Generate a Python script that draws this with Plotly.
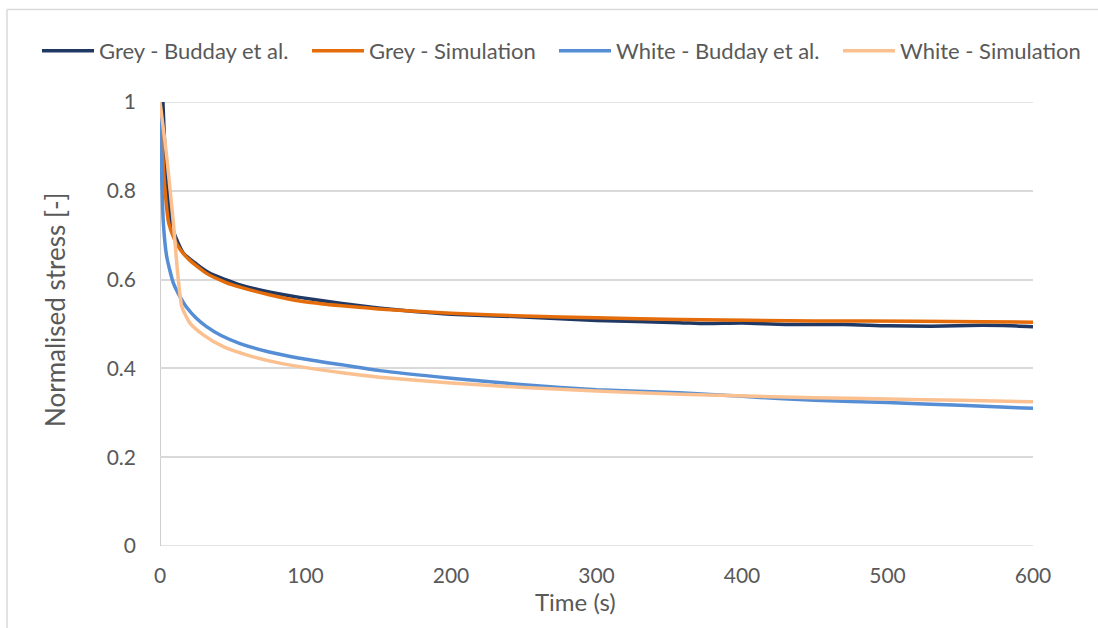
import plotly.graph_objects as go

# Grey matter - Budday et al.
grey_exp_t = [2, 5, 9, 16, 25, 34, 45, 55, 75, 96, 125, 150, 175, 200, 250, 300, 357, 375, 400,
              430, 470, 500, 530, 565, 585, 600]
grey_exp_y = [1.0, 0.80, 0.712, 0.66, 0.635, 0.615, 0.600, 0.588, 0.572, 0.560, 0.546, 0.536,
              0.528, 0.522, 0.516, 0.508, 0.503, 0.501, 0.502, 0.499, 0.499, 0.496, 0.495,
              0.497, 0.496, 0.494]

# Grey matter - simulation
grey_sim_t = [0, 3, 6, 10, 14, 20, 32, 45, 55, 75, 96, 125, 150, 200, 250, 300, 357, 450, 520, 600]
grey_sim_y = [1.0, 0.82, 0.727, 0.69, 0.667, 0.645, 0.614, 0.594, 0.583, 0.566, 0.552, 0.541,
              0.534, 0.524, 0.518, 0.514, 0.510, 0.507, 0.506, 0.504]

# White matter - Budday et al.
white_exp_t = [0, 1, 2.3, 4.6, 9.2, 14, 18, 25, 32, 42, 55, 75, 96, 125, 151, 200, 250, 300,
               357, 400, 450, 500, 550, 600]
white_exp_y = [0.967, 0.85, 0.727, 0.652, 0.592, 0.56, 0.539, 0.513, 0.494, 0.474, 0.456,
               0.437, 0.423, 0.408, 0.395, 0.378, 0.363, 0.352, 0.345, 0.337, 0.328, 0.323,
               0.317, 0.310]

# White matter - simulation
white_sim_t = [0, 4.6, 9.2, 12, 15, 20.6, 30, 43.5, 60, 75, 96, 125, 151, 200, 250, 300, 357,
               450, 500, 550, 600]
white_sim_y = [1.0, 0.877, 0.727, 0.62, 0.539, 0.502, 0.475, 0.449, 0.43, 0.417, 0.404, 0.39,
               0.380, 0.367, 0.357, 0.349, 0.342, 0.334, 0.331, 0.328, 0.325]

x_ticks = [0, 100, 200, 300, 400, 500, 600]
y_ticks = [0, 0.2, 0.4, 0.6, 0.8, 1]
y_tick_text = ["0", "0.2", "0.4", "0.6", "0.8", "1"]

FONT = "Lato"
TEXT = "#595959"
GRID = "#D9D9D9"

W, H = 1098, 628
L, R, T, B = 160, 65, 102, 82
PW, PH = W - L - R, H - T - B


def px_x(px):
    return (px - L) / PW


def px_y(py):
    return (H - B - py) / PH


series = [
    ("Grey - Budday et al.", grey_exp_t, grey_exp_y, "#1F3864", "legend", 37),
    ("Grey - Simulation", grey_sim_t, grey_sim_y, "#E46C0A", "legend2", 307),
    ("White - Budday et al.", white_exp_t, white_exp_y, "#558ED5", "legend3", 554),
    ("White - Simulation", white_sim_t, white_sim_y, "#FAC090", "legend4", 838),
]

fig = go.Figure()
for name, t, y, color, leg, _ in series:
    fig.add_trace(go.Scatter(
        x=t, y=y, name=name, mode="lines", legend=leg,
        line=dict(color=color, width=3.5, shape="spline", smoothing=0.6),
    ))

legend_style = dict(
    orientation="h", xanchor="left", yanchor="middle", y=px_y(51),
    font=dict(size=22, color=TEXT), bgcolor="rgba(0,0,0,0)", itemwidth=52,
)
layout_legends = {}
for _, _, _, _, leg, lx in series:
    layout_legends[leg] = dict(legend_style, x=px_x(lx))

fig.update_layout(
    width=W, height=H,
    margin=dict(l=L, r=R, t=T, b=B, autoexpand=False),
    paper_bgcolor="white", plot_bgcolor="white",
    font=dict(family=FONT, color=TEXT, size=20),
    showlegend=True,
    xaxis=dict(
        range=[0, 600], tickvals=x_ticks, showgrid=False, zeroline=False,
        showline=False, ticks="", ticklabelstandoff=15,
        tickfont=dict(size=21, color=TEXT),
    ),
    yaxis=dict(
        range=[0, 1], tickvals=y_ticks, ticktext=y_tick_text,
        showgrid=True, gridcolor=GRID, gridwidth=1.5, zeroline=False,
        showline=False, ticks="", ticklabelstandoff=23,
        tickfont=dict(size=21, color=TEXT),
    ),
    **layout_legends,
)

# Axis titles
fig.add_annotation(text="Time (s)", xref="paper", yref="paper", x=px_x(575), y=px_y(601),
                   showarrow=False, xanchor="center", yanchor="middle",
                   font=dict(size=24, color=TEXT, family=FONT))
fig.add_annotation(text="Normalised stress [-]", xref="paper", yref="paper", x=px_x(55),
                   y=px_y(310), textangle=-90, showarrow=False, xanchor="center",
                   yanchor="middle", font=dict(size=26, color=TEXT, family=FONT))

# Gridlines at the edges of the value range
for yv in (0, 1):
    fig.add_shape(type="line", xref="paper", yref="y", x0=0, x1=1, y0=yv, y1=yv,
                  line=dict(color=GRID, width=1.5), layer="below")

# Vertical axis line at t = 0
fig.add_shape(type="line", xref="x", yref="paper", x0=0, x1=0, y0=0, y1=1,
              line=dict(color="#BFBFBF", width=1.5), layer="below")

# Chart frame (top and left edges)
top_y = px_y(9.5)
left_x = px_x(7)
fig.add_shape(type="line", xref="paper", yref="paper", x0=left_x, x1=px_x(W),
              y0=top_y, y1=top_y, line=dict(color=GRID, width=1.5))
fig.add_shape(type="line", xref="paper", yref="paper", x0=left_x, x1=left_x,
              y0=top_y, y1=px_y(H), line=dict(color=GRID, width=1.5))

fig.write_html("out.html")
